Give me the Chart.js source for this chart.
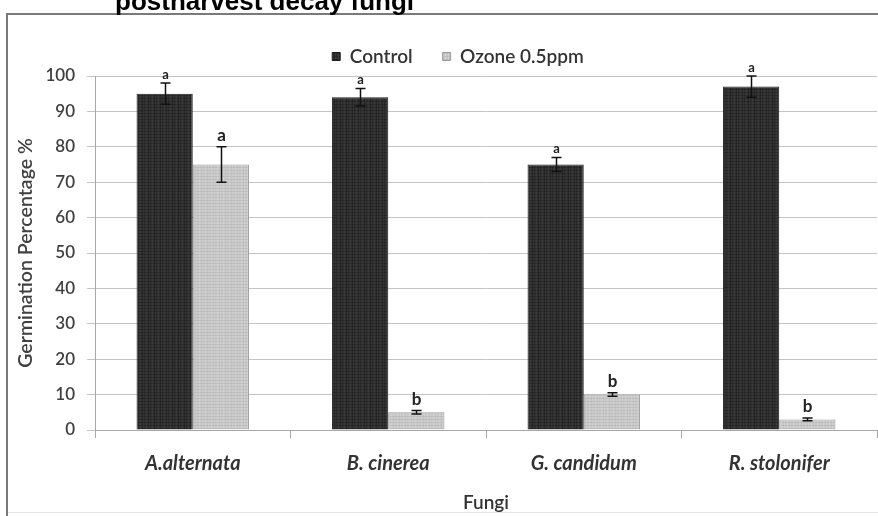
<!DOCTYPE html>
<html>
<head>
<meta charset="utf-8">
<script src="https://cdn.jsdelivr.net/npm/chart.js@4/dist/chart.umd.min.js"></script>
<style>
  html, body { margin: 0; padding: 0; background: #ffffff; }
  #wrap { width: 878px; height: 516px; }
</style>
</head>
<body>
<div id="wrap"><canvas id="c" width="878" height="516"></canvas></div>
<script>
const categories = ['A.alternata', 'B. cinerea', 'G. candidum', 'R. stolonifer'];
const seriesNames = ['Control', 'Ozone 0.5ppm'];
const controlValues = [95, 94, 75, 97];
const ozoneValues = [75, 5, 10, 3];
const controlErrors = [3, 2.5, 2, 3];
const ozoneErrors = [5, 0.5, 0.5, 0.4];
const controlLetters = ['a', 'a', 'a', 'a'];
const ozoneLetters = ['a', 'b', 'b', 'b'];
const yTicks = [0, 10, 20, 30, 40, 50, 60, 70, 80, 90, 100];
const chartTitle = 'postharvest decay fungi';
const yTitle = 'Germination Percentage %';
const xTitle = 'Fungi';

const FONT = "Lato, 'Open Sans', 'DejaVu Sans', sans-serif";

function makePattern(colors, lineColor) {
  const p = document.createElement('canvas');
  p.width = colors.length; p.height = 3;
  const g = p.getContext('2d');
  colors.forEach((c, i) => { g.fillStyle = c; g.fillRect(i, 0, 1, 3); });
  g.fillStyle = lineColor; g.fillRect(0, 2, colors.length, 1);
  return g.createPattern(p, 'repeat');
}
const ctx = document.getElementById('c').getContext('2d');
const darkPattern = makePattern(['#2b2b2b', '#333333', '#3b3b3b', '#303030', '#272727', '#363636'], 'rgba(20,20,20,0.35)');
const lightPattern = makePattern(['#c9c9c9', '#d2d2d2', '#cccccc', '#c4c4c4', '#d0d0d0', '#c7c7c7'], 'rgba(150,150,150,0.25)');

const errorSets = [controlErrors, ozoneErrors];
const letterSets = [controlLetters, ozoneLetters];

const decorPlugin = {
  id: 'decor',
  beforeDraw(chart) {
    const c = chart.ctx;
    c.save();
    c.fillStyle = '#ffffff';
    c.fillRect(0, 0, chart.width, chart.height);
    c.strokeStyle = '#e6e6e6';
    c.lineWidth = 1;
    c.beginPath();
    c.moveTo(8, 512.5); c.lineTo(chart.width, 512.5);
    c.stroke();
    c.strokeStyle = '#7a7a7a';
    c.lineWidth = 2;
    c.beginPath();
    c.moveTo(7, chart.height + 2);
    c.lineTo(7, 14);
    c.lineTo(chart.width + 2, 14);
    c.stroke();
    c.fillStyle = '#000000';
    c.font = "bold 26px 'Liberation Sans', Arial, sans-serif";
    c.textBaseline = 'alphabetic';
    c.textAlign = 'left';
    c.fillText(chartTitle, 115, 10);
    c.restore();
  },
  afterDatasetsDraw(chart) {
    const c = chart.ctx;
    const y = chart.scales.y;
    c.save();
    chart.data.datasets.forEach((ds, di) => {
      const meta = chart.getDatasetMeta(di);
      meta.data.forEach((el, i) => {
        const v = ds.data[i];
        const e = errorSets[di][i];
        const yt = y.getPixelForValue(v + e);
        const yb = y.getPixelForValue(v - e);
        const x = Math.round(el.x) + 0.5;
        c.strokeStyle = '#111111';
        c.lineWidth = 1.5;
        c.beginPath();
        c.moveTo(x, yt); c.lineTo(x, yb);
        c.moveTo(x - 5, yt); c.lineTo(x + 5, yt);
        c.moveTo(x - 5, yb); c.lineTo(x + 5, yb);
        c.stroke();
        c.fillStyle = '#222222';
        c.textAlign = 'center';
        c.textBaseline = 'alphabetic';
        if (di === 0) {
          c.font = 'bold 13px ' + FONT;
          c.fillText(letterSets[di][i], x, yt - 4);
        } else {
          c.font = 'bold 17px ' + FONT;
          c.fillText(letterSets[di][i], x, yt - 6);
        }
      });
    });
    c.restore();
  }
};

new Chart(ctx, {
  type: 'bar',
  data: {
    labels: categories,
    datasets: [
      { label: seriesNames[0], data: controlValues, backgroundColor: darkPattern, borderColor: '#1e1e1e', borderWidth: 1 },
      { label: seriesNames[1], data: ozoneValues, backgroundColor: lightPattern, borderColor: '#9a9a9a', borderWidth: 1 }
    ]
  },
  options: {
    responsive: false,
    animation: false,
    layout: { padding: { left: 39, right: 1, top: 17, bottom: 0 } },
    datasets: { bar: { barPercentage: 1.0, categoryPercentage: 0.575 } },
    plugins: {
      legend: {
        position: 'top',
        labels: {
          font: { family: FONT, size: 19, weight: '600' },
          color: '#333333',
          boxWidth: 8, boxHeight: 8, padding: 30
        }
      },
      title: { display: false },
      tooltip: { enabled: false }
    },
    scales: {
      x: {
        afterFit(s) { s.height = 86; },
        grid: { display: true, drawOnChartArea: false, offset: true, color: '#a8a8a8', tickLength: 8 },
        border: { color: '#a8a8a8' },
        ticks: { font: { family: FONT, size: 20, weight: 'bold', style: 'italic' }, color: '#333333', padding: 14 },
        title: { display: true, text: xTitle, font: { family: FONT, size: 19, weight: '600' }, color: '#333333', padding: { top: 4, bottom: 2 } }
      },
      y: {
        min: 0, max: 100,
        afterBuildTicks(s) { s.ticks = yTicks.map(v => ({ value: v })); },
        afterFit(s) { s.width = 56; },
        grid: { color: '#c4c4c4', tickLength: 8 },
        border: { color: '#a8a8a8' },
        ticks: { font: { family: FONT, size: 17, weight: '600' }, color: '#404040', padding: 12 },
        title: { display: true, text: yTitle, font: { family: FONT, size: 19.5, weight: '600' }, color: '#404040', padding: { top: -25, bottom: 0 } }
      }
    }
  },
  plugins: [decorPlugin]
});
</script>
</body>
</html>
